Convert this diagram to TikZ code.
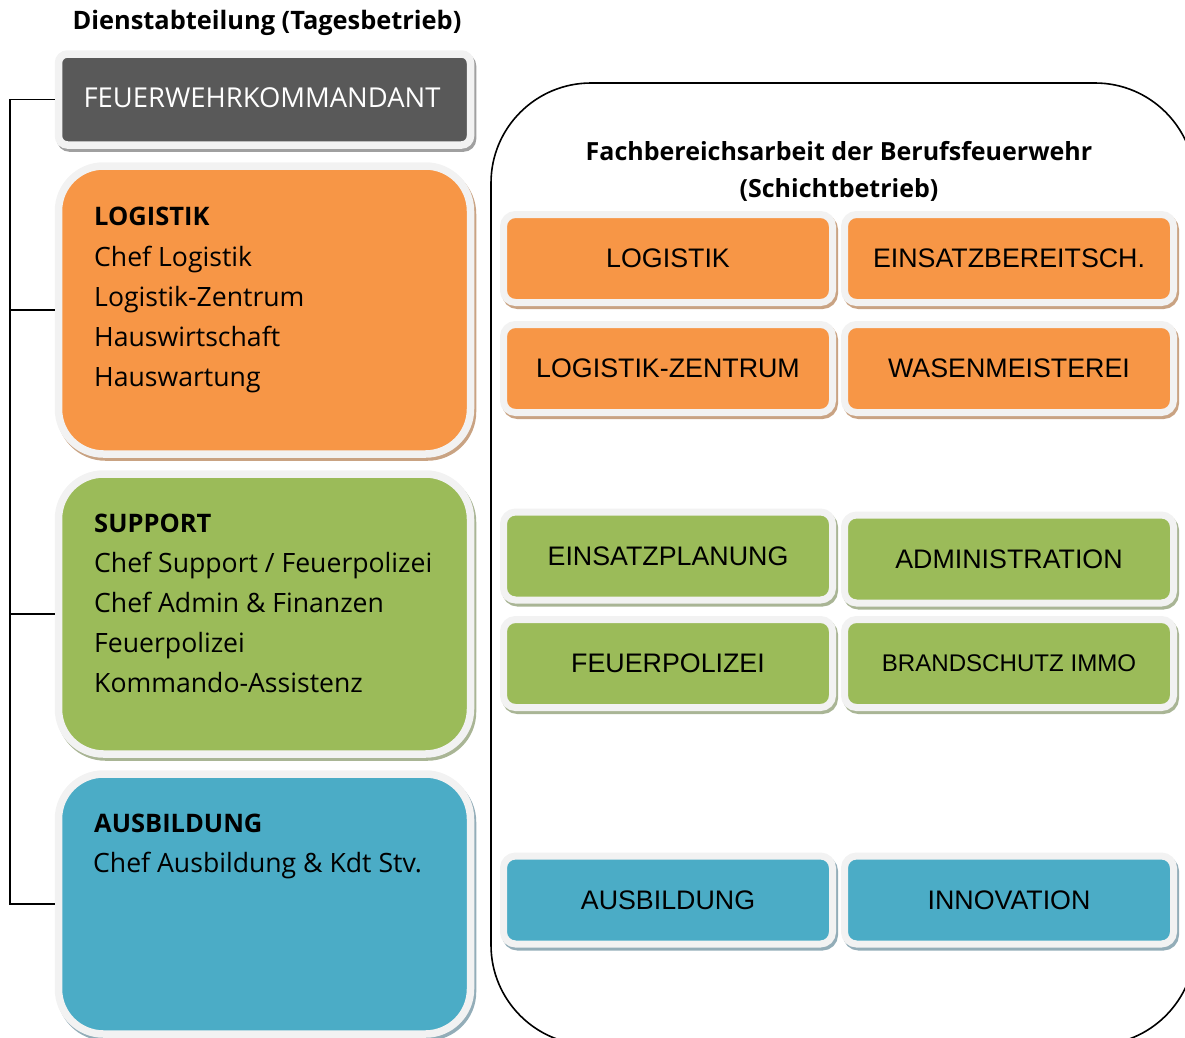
\documentclass[tikz,border=0pt]{standalone}
\usepackage{fontspec}
\setmainfont{Open Sans}
\newfontfamily\arialf{Liberation Sans}
\definecolor{framec}{HTML}{F2F2F2}
\definecolor{kdtc}{HTML}{595959}
\definecolor{orc}{HTML}{F79646}
\definecolor{grc}{HTML}{9BBB59}
\definecolor{blc}{HTML}{4BACC6}
\definecolor{shgray}{HTML}{A0A0A0}
\definecolor{shor}{HTML}{C9A383}
\definecolor{shgr}{HTML}{A9B595}
\definecolor{shbl}{HTML}{93ADB8}
\tikzset{
  shad/.style={preaction={draw=#1,fill=#1,transform canvas={shift={(2pt,-3pt)}}}},
  bigbox/.style={draw=framec,line width=7.5pt,rounded corners=45pt,minimum width=412pt,inner sep=0pt},
  smallbox/.style={draw=framec,line width=7pt,rounded corners=12pt,minimum width=329pt,minimum height=88pt,inner sep=0pt,font=\arialf\fontsize{26.8}{30}\selectfont},
  ltxt/.style={anchor=base west,inner sep=0pt,font=\fontsize{26.6}{30}\selectfont},
  lhead/.style={anchor=base west,inner sep=0pt,font=\bfseries\fontsize{25.5}{30}\selectfont},
  head/.style={inner sep=0pt,font=\bfseries\fontsize{25}{28}\selectfont},
  conn/.style={line width=1.8pt}
}
\begin{document}
\begin{tikzpicture}[x=1pt,y=-1pt]
\useasboundingbox (0,0) rectangle (1185,1037);
\clip (0,0) rectangle (1185,1037);
% titles
\node[head,font=\bfseries\fontsize{25.4}{28}\selectfont] (t1) at (267,23) {Dienstabteilung (Tagesbetrieb)};
% right container
\draw[line width=1.6pt] (491,83) [rounded corners=100pt] rectangle (1195,1045);
\node[head] (t2) at (839,151) {Fachbereichsarbeit der Berufsfeuerwehr};
\node[head] (t3) at (839,190) {(Schichtbetrieb)};
% left boxes
\node[bigbox,rounded corners=9pt,fill=kdtc,minimum height=91pt,shad=shgray,text=white,font=\fontsize{27.4}{30}\selectfont] (kdt) at (264.5,99.5) {};
\node[text=white,inner sep=0pt,font=\fontsize{27.4}{30}\selectfont] (kdtT) at (262,98) {FEUERWEHRKOMMANDANT};
\node[bigbox,fill=orc,minimum height=288pt,shad=shor] (log) at (264.5,310) {};
\node[bigbox,fill=grc,minimum height=280pt,shad=shgr] (sup) at (264.5,614) {};
\node[bigbox,fill=blc,minimum height=260pt,shad=shbl] (aus) at (264.5,904) {};
% left texts
\node[lhead] (la) at (94,225) {LOGISTIK};
\node[ltxt] (lb) at (94,266) {Chef Logistik};
\node[ltxt] (lc) at (94,306) {Logistik-Zentrum};
\node[ltxt] (ld) at (94,346) {Hauswirtschaft};
\node[ltxt] (le) at (94,386) {Hauswartung};
\node[lhead] (sa) at (94,532) {SUPPORT};
\node[ltxt] (sb) at (94,572) {Chef Support / Feuerpolizei};
\node[ltxt] (sc) at (94,612) {Chef Admin \& Finanzen};
\node[ltxt] (sd) at (94,652) {Feuerpolizei};
\node[ltxt] (se) at (94,692) {Kommando-Assistenz};
\node[lhead] (aa) at (94,832) {AUSBILDUNG};
\node[ltxt] (ab) at (93,872) {Chef Ausbildung \& Kdt Stv.};
% bracket
\coordinate (bx) at (10,0);
\draw[conn] (kdt.west) -- (kdt.west -| bx) -- (aus.west -| bx) -- (aus.west);
\draw[conn] (log.west) -- (log.west -| bx);
\draw[conn] (sup.west) -- (sup.west -| bx);
% right boxes
\node[smallbox,fill=orc,shad=shor] (r1a) at (668,258.5) {LOGISTIK};
\node[smallbox,fill=orc,shad=shor] (r1b) at (1009,258.5) {EINSATZBEREITSCH.};
\node[smallbox,fill=orc,shad=shor] (r2a) at (668,368.5) {LOGISTIK-ZENTRUM};
\node[smallbox,fill=orc,shad=shor] (r2b) at (1009,368.5) {WASENMEISTEREI};
\node[smallbox,fill=grc,shad=shgr] (r3a) at (668,556) {EINSATZPLANUNG};
\node[smallbox,fill=grc,shad=shgr] (r3b) at (1009,559) {ADMINISTRATION};
\node[smallbox,fill=grc,shad=shgr] (r4a) at (668,663.5) {FEUERPOLIZEI};
\node[smallbox,fill=grc,shad=shgr,font=\arialf\fontsize{24.1}{28}\selectfont] (r4b) at (1009,663.5) {BRANDSCHUTZ IMMO};
\node[smallbox,fill=blc,shad=shbl] (r5a) at (668,900) {AUSBILDUNG};
\node[smallbox,fill=blc,shad=shbl] (r5b) at (1009,900) {INNOVATION};
\end{tikzpicture}
\end{document}
